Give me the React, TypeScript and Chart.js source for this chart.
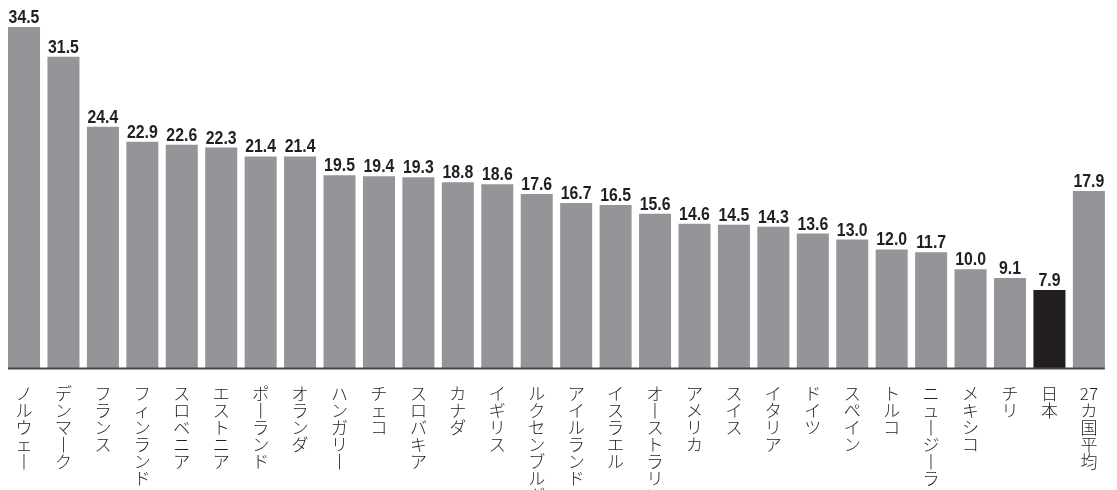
import React, { useEffect, useRef } from "react";
import { Chart, registerables } from "chart.js";

Chart.register(...registerables);

const countries: string[] = [
  "ノルウェー", "デンマーク", "フランス", "フィンランド", "スロベニア", "エストニア",
  "ポーランド", "オランダ", "ハンガリー", "チェコ", "スロバキア", "カナダ", "イギリス",
  "ルクセンブルグ", "アイルランド", "イスラエル", "オーストラリア", "アメリカ", "スイス",
  "イタリア", "ドイツ", "スペイン", "トルコ", "ニュージーランド", "メキシコ", "チリ",
  "日本", "27カ国平均",
];

const shares: number[] = [
  34.5, 31.5, 24.4, 22.9, 22.6, 22.3, 21.4, 21.4, 19.5, 19.4, 19.3, 18.8, 18.6,
  17.6, 16.7, 16.5, 15.6, 14.6, 14.5, 14.3, 13.6, 13.0, 12.0, 11.7, 10.0, 9.1,
  7.9, 17.9,
];

const highlighted: string[] = ["日本"];

const GRAY = "#939598";
const DARK = "#231f20";

// Split a label into vertical lines: one glyph per line, digit runs kept together,
// and the long-vowel mark turned upright.
function verticalize(text: string): string[] {
  const out: string[] = [];
  let digits = "";
  for (const ch of Array.from(text)) {
    if (/[0-9]/.test(ch)) {
      digits += ch;
      continue;
    }
    if (digits) {
      out.push(digits);
      digits = "";
    }
    out.push(ch === "ー" ? "丨" : ch);
  }
  if (digits) out.push(digits);
  return out;
}

// Value above each bar, in a slightly condensed bold face.
const valueLabels = {
  id: "valueLabels",
  afterDatasetsDraw(chart: any) {
    const ctx = chart.ctx;
    const meta = chart.getDatasetMeta(0);
    const squeeze = 0.88;
    ctx.save();
    ctx.fillStyle = DARK;
    ctx.font = "bold 18px 'Liberation Sans', Arial, sans-serif";
    ctx.textAlign = "center";
    ctx.textBaseline = "alphabetic";
    meta.data.forEach((bar: any, i: number) => {
      ctx.save();
      ctx.translate(bar.x, bar.y - 4);
      ctx.scale(squeeze, 1);
      ctx.fillText(shares[i].toFixed(1), 0, 0);
      ctx.restore();
    });
    ctx.restore();
  },
};

const baseline = {
  id: "baseline",
  afterDatasetsDraw(chart: any) {
    const ctx = chart.ctx;
    const meta = chart.getDatasetMeta(0);
    const first = meta.data[0];
    const last = meta.data[meta.data.length - 1];
    const y = chart.chartArea.bottom + 0.5;
    ctx.save();
    ctx.strokeStyle = "#4a4a4a";
    ctx.lineWidth = 2;
    ctx.beginPath();
    ctx.moveTo(first.x - first.width / 2, y);
    ctx.lineTo(last.x + last.width / 2, y);
    ctx.stroke();
    ctx.restore();
  },
};

export default function App() {
  const canvasRef = useRef<HTMLCanvasElement | null>(null);

  useEffect(() => {
    if (!canvasRef.current) return;
    const chart = new Chart(canvasRef.current, {
      type: "bar",
      data: {
        labels: countries,
        datasets: [
          {
            data: shares,
            backgroundColor: countries.map((c) => (highlighted.includes(c) ? DARK : GRAY)),
            borderWidth: 0,
            barPercentage: 0.812,
            categoryPercentage: 1,
          },
        ],
      },
      options: {
        responsive: false,
        animation: false,
        layout: { padding: { left: 4.3, right: 8.4, top: 12.2, bottom: 0 } },
        plugins: {
          legend: { display: false },
          tooltip: { enabled: false },
        },
        scales: {
          x: {
            offset: true,
            grid: { display: false },
            border: { display: false },
            afterFit: (scale: any) => {
              scale.height = 122;
            },
            ticks: {
              autoSkip: false,
              maxRotation: 0,
              minRotation: 0,
              padding: 9,
              color: DARK,
              font: { family: "'Noto Sans CJK JP', sans-serif", size: 17, weight: 300, lineHeight: "17px" },
              callback: (_v: any, i: number) => verticalize(countries[i]),
            },
          },
          y: {
            display: false,
            min: 0,
            max: 36,
          },
        },
      },
      plugins: [valueLabels, baseline],
    });
    return () => chart.destroy();
  }, []);

  return (
    <div style={{ position: "absolute", left: 0, top: 0, width: 1117, height: 490, background: "#fff" }}>
      <canvas ref={canvasRef} width={1117} height={490} />
    </div>
  );
}
